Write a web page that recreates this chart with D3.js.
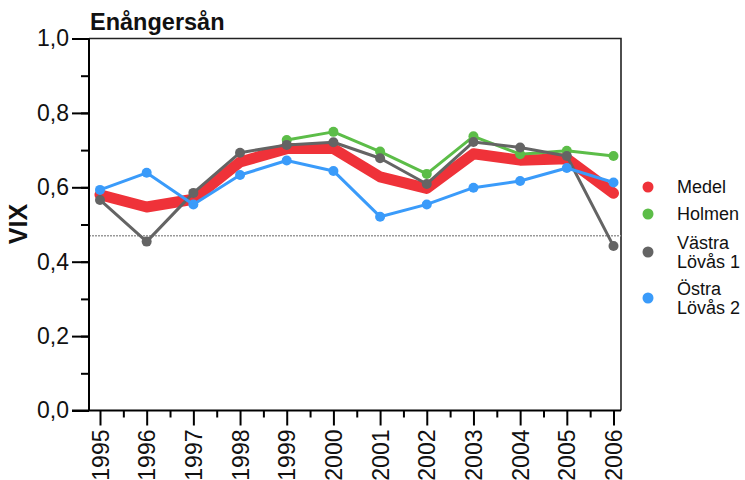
<!DOCTYPE html>
<html>
<head>
<meta charset="utf-8">
<script src="https://cdn.jsdelivr.net/npm/d3@7"></script>
<style>
  body { margin: 0; background: #fff; }
  svg { display: block; font-family: "Liberation Sans", Arial, sans-serif; }
</style>
</head>
<body>
<div id="chart"></div>
<script>
const years = [1995, 1996, 1997, 1998, 1999, 2000, 2001, 2002, 2003, 2004, 2005, 2006];
const medel = [0.580, 0.547, 0.568, 0.668, 0.704, 0.704, 0.628, 0.597, 0.690, 0.673, 0.677, 0.584];
const holmen = [null, null, null, null, 0.727, 0.749, 0.696, 0.636, 0.737, 0.689, 0.698, 0.684];
const vastra = [0.566, 0.454, 0.585, 0.693, 0.714, 0.721, 0.678, 0.609, 0.722, 0.707, 0.684, 0.442];
const ostra = [0.593, 0.639, 0.554, 0.633, 0.672, 0.644, 0.521, 0.554, 0.599, 0.617, 0.652, 0.613];
const refLine = 0.470;
const yTickLabels = ["0,0", "0,2", "0,4", "0,6", "0,8", "1,0"];

const W = 745, H = 480;
const PLOT = {LEFT: 89, RIGHT: 621, TOP: 38.5, BOTTOM: 410.5};

const svg = d3.select("#chart").append("svg")
    .attr("width", W)
    .attr("height", H);

const x = d3.scaleLinear().domain([1995, 2006]).range([100, 613.5]);
const y = d3.scaleLinear().domain([0, 1]).range([PLOT.BOTTOM, PLOT.TOP]);

// frame (top + right)
svg.append("path")
    .attr("d", `M${PLOT.LEFT},${PLOT.TOP}H${PLOT.RIGHT}V${PLOT.BOTTOM}`)
    .attr("fill", "none")
    .attr("stroke", "#222")
    .attr("stroke-width", 1.6);

// reference line
svg.append("line")
    .attr("x1", PLOT.LEFT).attr("x2", PLOT.RIGHT)
    .attr("y1", y(refLine)).attr("y2", y(refLine))
    .attr("stroke", "#999")
    .attr("stroke-width", 1.5)
    .attr("stroke-dasharray", "2,1");

// y axis
const yAxis = svg.append("g").attr("transform", `translate(${PLOT.LEFT},0)`);
yAxis.call(d3.axisLeft(y).tickValues(d3.range(0, 1.01, 0.1)).tickSize(8).tickFormat(""))
yAxis.call(g => g.select(".domain").remove());
yAxis.selectAll(".tick line").attr("stroke-width", 2).attr("stroke", "#000");
yAxis.append("g")
    .call(d3.axisLeft(y).tickValues([0, 0.2, 0.4, 0.6, 0.8, 1.0]).tickSize(17).tickPadding(3)
        .tickFormat((d, i) => yTickLabels[i]))
    .call(g => g.select(".domain").remove())
    .call(g => g.selectAll(".tick line").attr("stroke-width", 2).attr("stroke", "#000"))
    .call(g => g.selectAll("text").attr("font-size", "23px").attr("fill", "#111")
        .attr("font-family", "Liberation Sans, Arial, sans-serif"));
yAxis.append("line")
    .attr("x1", 0).attr("x2", 0)
    .attr("y1", PLOT.TOP).attr("y2", PLOT.BOTTOM)
    .attr("stroke", "#000").attr("stroke-width", 2);

// x axis
const xAxis = svg.append("g").attr("transform", `translate(0,${PLOT.BOTTOM})`);
xAxis.call(d3.axisBottom(x).tickValues(d3.range(1994.5, 2006, 1).filter(d => d > 1995)).tickSize(7).tickFormat(""))
    .call(g => g.select(".domain").remove())
    .call(g => g.selectAll(".tick line").attr("stroke-width", 2).attr("stroke", "#000"));
xAxis.append("g")
    .call(d3.axisBottom(x).tickValues(years).tickSize(15).tickPadding(6).tickFormat(d3.format("d")))
    .call(g => g.select(".domain").remove())
    .call(g => g.selectAll(".tick line").attr("stroke-width", 2).attr("stroke", "#000"))
    .call(g => g.selectAll("text")
        .attr("font-size", "23px")
        .attr("fill", "#111")
        .attr("font-family", "Liberation Sans, Arial, sans-serif")
        .attr("text-anchor", "end")
        .attr("dy", "0.35em")
        .attr("transform", "translate(0,19) rotate(-90)")
        .attr("x", 0).attr("y", 0));
xAxis.append("line")
    .attr("x1", 72).attr("x2", PLOT.RIGHT)
    .attr("y1", 0).attr("y2", 0)
    .attr("stroke", "#000").attr("stroke-width", 2);

// series
const series = [
    {name: "Medel", values: medel, color: "#ef3239", width: 11, markers: false},
    {name: "Holmen", values: holmen, color: "#5cbd48", width: 3, markers: true},
    {name: ["Västra", "Lövås 1"], values: vastra, color: "#646464", width: 3, markers: true},
    {name: ["Östra", "Lövås 2"], values: ostra, color: "#3a9bfa", width: 3, markers: true}
];

const line = d3.line()
    .defined(d => d[1] != null)
    .x(d => x(d[0]))
    .y(d => y(d[1]));

series.forEach(s => {
    const pts = years.map((yr, i) => [yr, s.values[i]]);
    const g = svg.append("g");
    g.append("path")
        .datum(pts)
        .attr("d", line)
        .attr("fill", "none")
        .attr("stroke", s.color)
        .attr("stroke-width", s.width)
        .attr("stroke-linejoin", "round")
        .attr("stroke-linecap", "round");
    if (s.markers) {
        g.selectAll("circle")
            .data(pts.filter(d => d[1] != null))
            .enter()
            .append("circle")
            .attr("cx", d => x(d[0]))
            .attr("cy", d => y(d[1]))
            .attr("r", 5)
            .attr("fill", s.color);
    }
});

// title
svg.append("text")
    .attr("x", 90)
    .attr("y", 30)
    .attr("font-size", "23.5px")
    .attr("font-weight", "bold")
    .attr("fill", "#111")
    .text("Enångersån");

// y label
svg.append("text")
    .attr("transform", `translate(27,224) rotate(-90)`)
    .attr("text-anchor", "middle")
    .attr("font-size", "25px")
    .attr("font-weight", "bold")
    .attr("fill", "#111")
    .text("VIX");

// legend
const legendY = [187, 214, 252, 298];
const legend = svg.append("g");
series.forEach((s, i) => {
    legend.append("circle")
        .attr("cx", 648)
        .attr("cy", legendY[i])
        .attr("r", 5.5)
        .attr("fill", s.color);
    const names = Array.isArray(s.name) ? s.name : [s.name];
    const t = legend.append("text")
        .attr("x", 677)
        .attr("y", legendY[i] - (names.length - 1) * 9)
        .attr("font-size", "18px")
        .attr("fill", "#111")
        .attr("dominant-baseline", "central");
    names.forEach((n, j) => {
        t.append("tspan")
            .attr("x", 677)
            .attr("dy", j === 0 ? 0 : 18.5)
            .text(n);
    });
});
</script>
</body>
</html>
